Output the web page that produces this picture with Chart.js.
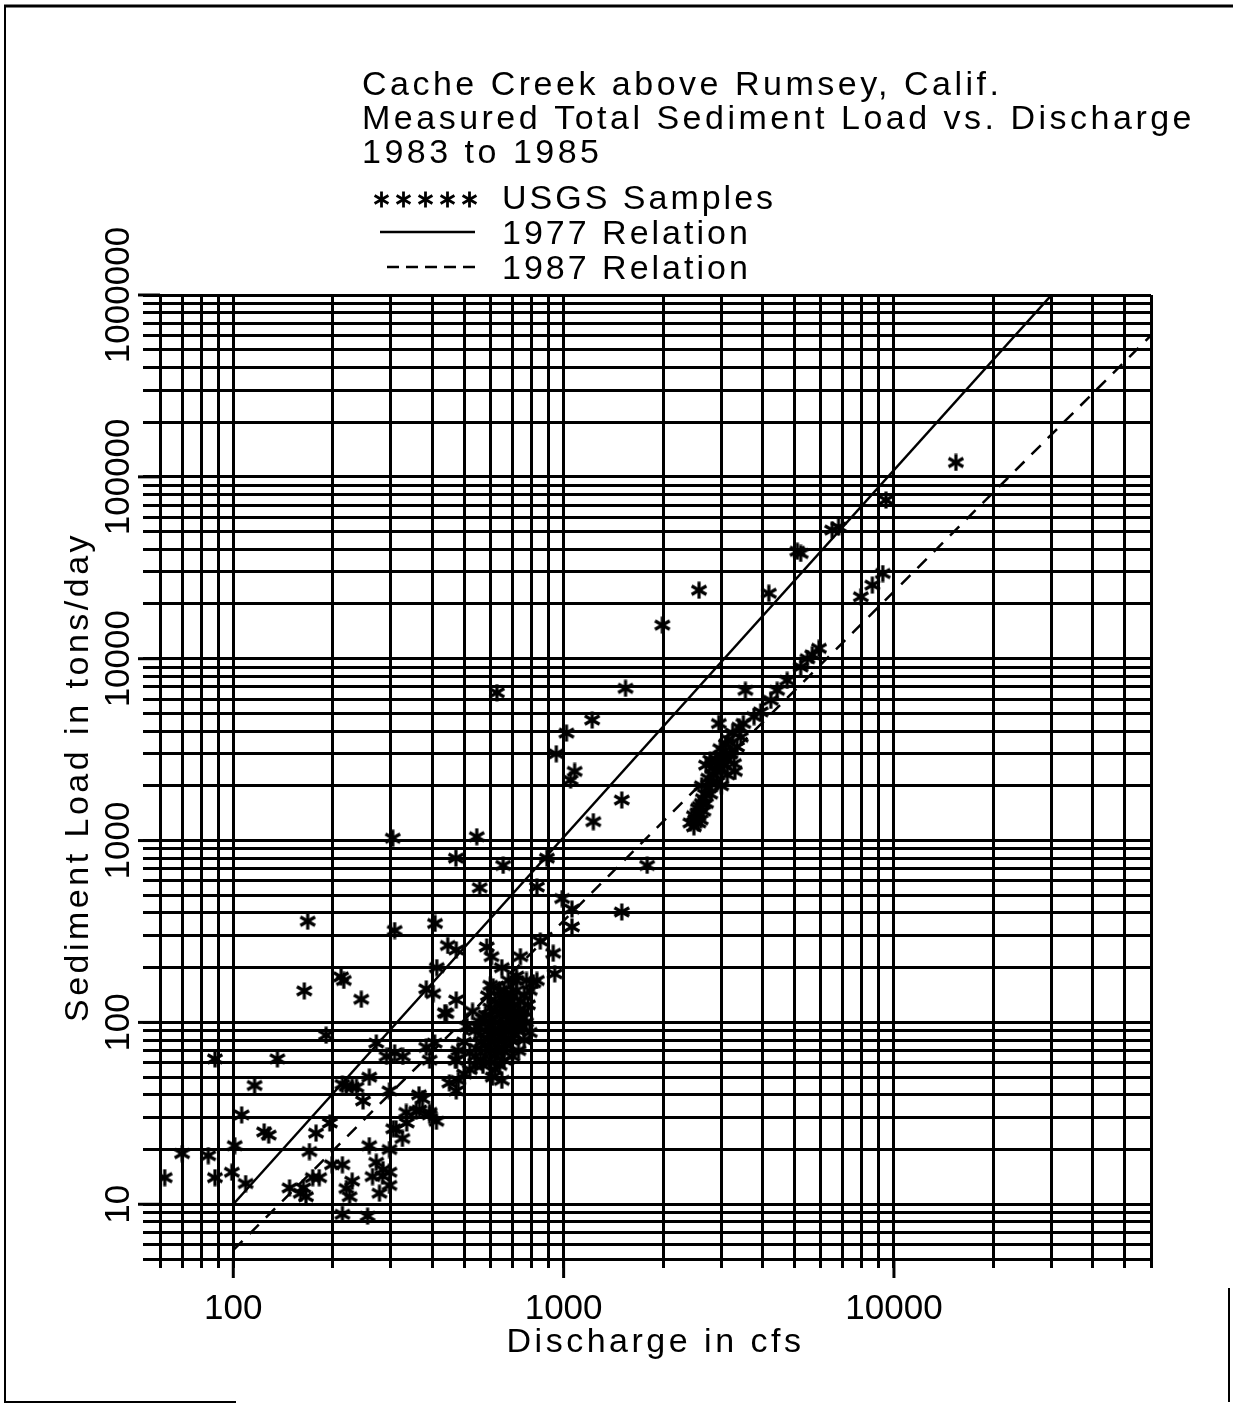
<!DOCTYPE html>
<html>
<head>
<meta charset="utf-8">
<title>Cache Creek above Rumsey, Calif.</title>
<script src="https://cdn.jsdelivr.net/npm/chart.js@4.4.1/dist/chart.umd.min.js"></script>
<style>
  html, body { margin: 0; padding: 0; background: #fff; }
</style>
</head>
<body>
<canvas id="chart" width="1233" height="1405"></canvas>
<script>
// ---- values ----
// USGS samples: discharge (cfs) and total sediment load (tons/day)
const dischargeCfs = [
  62, 70, 84, 88, 88, 99, 101, 106, 109, 116, 124, 128, 136, 148, 160, 163, 166, 170, 174, 178, 182, 164, 168, 191, 196, 199,
  212, 216, 214, 220, 214, 220, 229, 225, 214, 229, 236, 244, 247, 255, 258, 258, 264, 271, 271, 277, 283, 284, 291, 297,
  297, 297, 297, 304, 305, 308, 308, 311, 325, 326, 334, 335, 358, 365, 366, 374, 384, 384, 393, 393, 393, 403, 407, 408,
  413, 412, 437, 446, 442, 451, 472, 473, 473, 473, 474,
  546, 557, 585, 605, 612, 628, 642, 656, 720, 740, 772, 810, 830, 830, 850, 890, 930, 940, 950, 990,
  480, 500, 520, 540, 560, 580, 600, 620, 640, 660, 520, 545, 565, 590, 610, 630, 650, 670, 690, 710,
  600, 620, 640, 660, 680, 700, 720, 740, 760, 780, 620, 640, 660, 680, 700, 720, 600, 580, 560, 540,
  650, 670, 690, 710, 730, 750, 770, 660, 640, 620, 590, 700, 740, 760, 790, 510, 530, 600, 680, 720,
  650, 700, 730, 760, 790, 620, 580, 560, 500, 470, 480, 610, 650,
  550, 570, 590, 610, 630, 650, 670, 690, 710, 730, 600, 630, 660, 690, 710, 540, 570, 640, 680, 750,
  1020, 1050, 1060, 1060, 1080, 1220, 1230, 1500, 1500, 1540, 1790, 1990,
  2420, 2480, 2480, 2540, 2580, 2640, 2700, 2780, 2780, 2850, 2920, 2950, 2990, 3050, 3130, 3130, 3280, 3350, 3440, 3500,
  3550, 3770, 3950, 4240, 4430, 4750, 2600, 2650, 2700, 2750, 2800, 2900, 3000, 3100, 3200, 3300, 2560, 2620, 2880, 3000, 3150,
  2500, 2550, 2620, 2680, 2740, 2820, 2900, 2980, 3060, 3180, 3250, 3400,
  2570, 4180, 5100, 5220, 5220, 5470, 5660, 5930, 6500, 6800, 7940, 8600, 9250, 9460, 15400
];
const loadTonsDay = [
  14, 19, 18.5, 14, 63, 15, 21, 31, 13, 45, 25, 24, 63, 12.3, 11.5, 12.3, 11, 19.5, 14, 24.6, 14, 149, 360, 85, 28, 16.5,
  178, 170, 45.6, 44.6, 16.5, 12.2, 13.4, 11, 8.8, 44, 44, 134, 37, 8.6, 50, 21, 14.2, 77, 17, 11.5, 14.3, 15.5, 65, 42,
  20, 12.7, 15, 1030, 26, 320, 68, 26, 23, 65, 32, 28, 32.5, 40, 33, 38, 153, 73, 32, 62, 31, 144, 77, 350,
  200, 28.6, 113, 265, 112, 46.5, 800, 250, 133, 42, 62,
  1050, 550, 260, 230, 157, 6500, 150, 730, 170, 230, 170, 165, 555, 170, 280, 800, 240, 185, 3000, 480,
  48, 52, 55, 58, 62, 65, 60, 55, 58, 62, 68, 72, 78, 82, 88, 92, 96, 100, 105, 110,
  70, 75, 80, 85, 90, 95, 100, 108, 115, 125, 100, 110, 120, 130, 140, 150, 120, 110, 100, 90,
  70, 75, 80, 85, 90, 95, 100, 150, 140, 130, 140, 120, 130, 140, 150, 95, 115, 160, 170, 180,
  200, 65, 70, 80, 88, 65, 75, 85, 78, 62, 70, 50, 48,
  95, 105, 95, 105, 115, 125, 135, 145, 125, 115, 85, 68, 72, 92, 98, 65, 58, 88, 110, 105,
  3900, 2150, 420, 335, 2400, 4600, 1270, 1670, 405, 6870, 730, 15300,
  1250, 1370, 1190, 1420, 1540, 1700, 2600, 1800, 2770, 2300, 2100, 4400, 2500, 3100, 2770, 2300, 2650, 3270, 3700, 4400,
  6700, 4800, 5100, 5900, 6700, 7600, 1300, 1450, 1600, 1950, 2050, 2400, 2900, 3400, 3000, 2400, 1250, 2000, 2700, 2000, 3600,
  1300, 1500, 1600, 1800, 2200, 2500, 2800, 3200, 2600, 3000, 3900, 4200,
  23800, 22900, 39000, 37900, 9000, 10000, 10500, 11400, 51000, 53000, 21900, 25400, 29400, 74500, 120000
];

// rating relations (end points)
const rel1977Q = [100, 30000];
const rel1977Load = [10, 1000000];
const rel1987Q = [100, 60000];
const rel1987Load = [5.6, 600000];

// grid / tick values
const xTicks = [60, 70, 80, 90, 100, 200, 300, 400, 500, 600, 700, 800, 900,
  1000, 2000, 3000, 4000, 5000, 6000, 7000, 8000, 9000,
  10000, 20000, 30000, 40000, 50000, 60000];
const xLabels = [100, 1000, 10000];
const yTicks = [5, 6, 7, 8, 9,
  10, 20, 30, 40, 50, 60, 70, 80, 90,
  100, 200, 300, 400, 500, 600, 700, 800, 900,
  1000, 2000, 3000, 4000, 5000, 6000, 7000, 8000, 9000,
  10000, 20000, 30000, 40000, 50000, 60000, 70000, 80000, 90000,
  100000, 200000, 300000, 400000, 500000, 600000, 700000, 800000, 900000, 1000000];
const yLabels = [10, 100, 1000, 10000, 100000, 1000000];

const titleLines = ['Cache Creek above Rumsey, Calif.', 'Measured Total Sediment Load vs. Discharge', '1983 to 1985'];
const legendLabels = ['USGS Samples', '1977 Relation', '1987 Relation'];

const FONT = "'Liberation Sans', Arial, sans-serif";

// asterisk marker, like the plotter's "*"
function makeStar(size, lw) {
  const c = document.createElement('canvas');
  c.width = c.height = size;
  const g = c.getContext('2d');
  const r = size / 2 - 0.5;
  g.strokeStyle = '#000';
  g.lineWidth = lw;
  g.translate(size / 2, size / 2);
  for (let k = 0; k < 3; k++) {
    const a = Math.PI / 2 + k * Math.PI / 3;
    g.beginPath();
    g.moveTo(Math.cos(a) * r, Math.sin(a) * r);
    g.lineTo(-Math.cos(a) * r, -Math.sin(a) * r);
    g.stroke();
  }
  return c;
}
const starImg = makeStar(18, 3.2);
const legendStar = makeStar(17, 2.8);

// widest y label, used to centre the rotated labels on their lines
const mctx = document.createElement('canvas').getContext('2d');
mctx.font = '35px ' + FONT;
const widestY = Math.max(...yLabels.map(v => mctx.measureText(String(v)).width));

const toPoints = (xs, ys) => xs.map((x, i) => ({ x: x, y: ys[i] }));

// text spacing for axis titles only (tick labels are drawn after datasets)
const spacingPlugin = {
    id: 'spacing',
    beforeDraw: function(chart) { chart.ctx.letterSpacing = '3.5px'; },
    beforeDatasetsDraw: function(chart) { chart.ctx.letterSpacing = '0px'; }
};

const annotationsPlugin = {
    id: 'annotations',
    afterDraw: function(chart) {
        const ctx = chart.ctx;
        const xs = chart.scales.x, ys = chart.scales.y, area = chart.chartArea;
        ctx.save();
        ctx.strokeStyle = '#000';
        ctx.fillStyle = '#000';
        ctx.lineWidth = 3;

        // longer marks at the labelled decades
        xLabels.forEach(v => {
            const px = xs.getPixelForValue(v);
            ctx.beginPath(); ctx.moveTo(px, area.bottom); ctx.lineTo(px, area.bottom + 19); ctx.stroke();
        });
        yLabels.forEach(v => {
            const py = ys.getPixelForValue(v);
            ctx.beginPath(); ctx.moveTo(area.left, py); ctx.lineTo(area.left - 22, py); ctx.stroke();
        });

        // page frame
        ctx.lineWidth = 3;
        ctx.beginPath(); ctx.moveTo(4, 6); ctx.lineTo(1233, 6); ctx.stroke();
        ctx.lineWidth = 2;
        ctx.beginPath(); ctx.moveTo(5, 6); ctx.lineTo(5, 1402); ctx.lineTo(236, 1402); ctx.stroke();
        ctx.beginPath(); ctx.moveTo(1229, 1288); ctx.lineTo(1229, 1402); ctx.stroke();

        // title block
        ctx.font = '34px ' + FONT;
        ctx.letterSpacing = '3.5px';
        ctx.textAlign = 'left';
        ctx.textBaseline = 'alphabetic';
        titleLines.forEach((t, i) => ctx.fillText(t, 362, 95 + i * 34));

        // legend
        for (let k = 0; k < 5; k++) {
            ctx.drawImage(legendStar, 381 + k * 22 - 8, 199 - 8);
        }
        ctx.lineWidth = 2.5;
        ctx.beginPath(); ctx.moveTo(380, 232); ctx.lineTo(475, 232); ctx.stroke();
        ctx.setLineDash([12, 7]);
        ctx.beginPath(); ctx.moveTo(387, 267); ctx.lineTo(476, 267); ctx.stroke();
        ctx.setLineDash([]);
        ctx.letterSpacing = '3px';
        legendLabels.forEach((t, i) => ctx.fillText(t, 502, 209 + i * 35));
        ctx.restore();
    }
};

new Chart(document.getElementById('chart').getContext('2d'), {
    type: 'scatter',
    data: {
        datasets: [{
            label: 'USGS Samples',
            data: toPoints(dischargeCfs, loadTonsDay),
            pointStyle: starImg,
            pointRadius: 8,
            showLine: false
        }, {
            label: '1977 Relation',
            data: toPoints(rel1977Q, rel1977Load),
            showLine: true,
            borderColor: '#000',
            borderWidth: 2.5,
            pointRadius: 0,
            fill: false
        }, {
            label: '1987 Relation',
            data: toPoints(rel1987Q, rel1987Load),
            showLine: true,
            borderColor: '#000',
            borderWidth: 2.5,
            borderDash: [13, 10],
            pointRadius: 0,
            fill: false
        }]
    },
    options: {
        responsive: false,
        animation: false,
        devicePixelRatio: 1,
        layout: { padding: { top: 295, right: 82, left: 0, bottom: 0 } },
        plugins: {
            legend: { display: false },
            title: { display: false },
            tooltip: { enabled: false }
        },
        scales: {
            x: {
                type: 'logarithmic',
                min: 60,
                max: 60000,
                afterBuildTicks: s => { s.ticks = xTicks.map(v => ({ value: v })); },
                afterFit: s => { s.height = 146; },
                grid: { color: '#000', lineWidth: 3, tickLength: 9, tickWidth: 3, tickColor: '#000' },
                border: { color: '#000', width: 3 },
                ticks: {
                    autoSkip: false, minRotation: 0, maxRotation: 0, padding: 20, z: 1,
                    color: '#000', font: { family: FONT, size: 35 },
                    callback: v => xLabels.includes(v) ? String(v) : ''
                },
                title: {
                    display: true, text: 'Discharge in cfs', color: '#000',
                    font: { family: FONT, size: 34 }, padding: { top: 0, bottom: 42 }
                }
            },
            y: {
                type: 'logarithmic',
                min: 5,
                max: 1000000,
                afterBuildTicks: s => { s.ticks = yTicks.map(v => ({ value: v })); },
                afterFit: s => { s.width = 160; },
                grid: { color: '#000', lineWidth: 3, tickLength: 17, tickWidth: 3, tickColor: '#000' },
                border: { color: '#000', width: 3 },
                ticks: {
                    autoSkip: false, minRotation: 90, maxRotation: 90, crossAlign: 'center',
                    padding: 24 - widestY / 2, z: 1,
                    color: '#000', font: { family: FONT, size: 35 },
                    callback: v => yLabels.includes(v) ? String(v) : ''
                },
                title: {
                    display: true, text: 'Sediment Load in tons/day', color: '#000',
                    font: { family: FONT, size: 34 }, padding: { top: 58, bottom: 0 }
                }
            }
        }
    },
    plugins: [spacingPlugin, annotationsPlugin]
});
</script>
</body>
</html>
